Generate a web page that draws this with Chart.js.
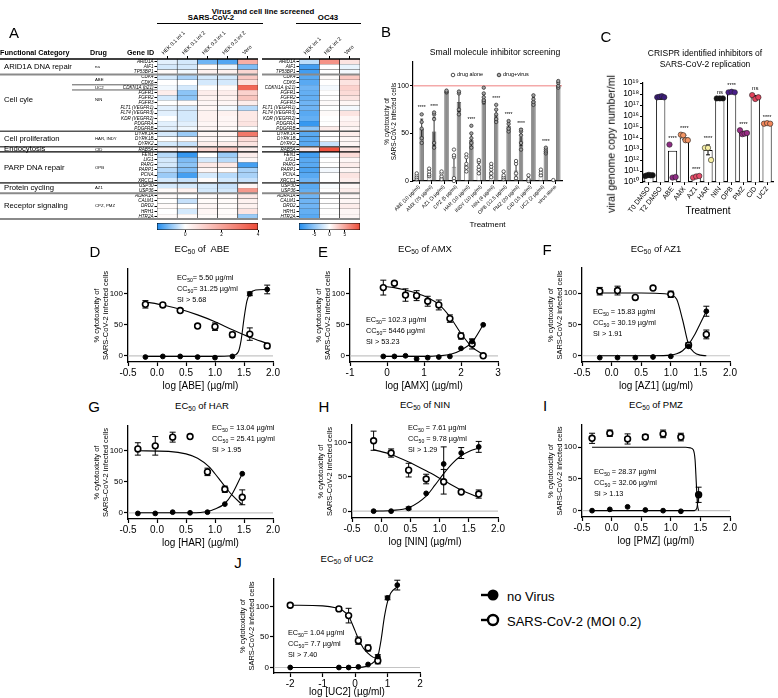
<!DOCTYPE html>
<html><head><meta charset="utf-8">
<script src="https://cdn.jsdelivr.net/npm/chart.js@4.4.1/dist/chart.umd.min.js"></script>
<style>
html,body{margin:0;padding:0;background:#fff}
body{width:778px;height:698px;position:relative;overflow:hidden;font-family:"Liberation Sans",Arial,sans-serif;color:#000}
canvas{position:absolute}
.t{position:absolute;white-space:nowrap;line-height:1}
.t sub{font-size:70%;vertical-align:-0.3em;line-height:0}
.hl{position:absolute;height:0;border-top:1.3px solid #000}
svg{position:absolute}
</style></head><body>
<script>
// ================= DATA =================
// ---- Panel A: heatmap ----
const genes = ['ARID1A','AIF1','TP53BP1','CDK4','CDK6','CDKN1A (p21)','FGFR1','FGFR2','FGFR3','FLT1 (VEGFR1)','FLT4 (VEGFR3)','KDR (VEGFR2)','PDGFRA','PDGFRB','DYRK1A','DYRK1B','DYRK2','RAB5A','FEN1','LIG1','PARG','PARP1','PCNA','XRCC1','USP30','USP36','ADRA1A','CALM1','DRD2','HRH1','HTR2A'];
const sarsCols = ['HEK 0.1 int 1','HEK 0.1 int 2','HEK 0.3 int 1','HEK 0.3 int 2','Vero'];
const sarsVals = [
 [-0.2,-0.3,-1.0,-1.2,1.8],[-0.3,-0.3,0.1,-0.15,-0.9],[0.1,-0.1,0.3,0.3,0.9],[-0.3,-0.6,-0.3,-0.3,1.2],
 [0.0,0.0,-0.3,-0.3,0.7],[-0.1,-0.3,0.0,0.1,3.4],[0.4,-0.8,0.4,0.4,1.0],[-0.3,-0.8,0.3,0.3,1.3],
 [0.0,0.1,0.2,0.2,0.4],[-0.2,-0.3,0.2,-0.1,-0.5],[-0.2,-0.3,0.3,0.3,0.5],[0.0,-0.3,0.3,0.2,0.5],
 [-0.2,-0.2,0.2,0.2,0.6],[-0.2,-0.1,0.2,0.1,0.0],[-0.3,-0.7,0.2,0.2,3.0],[0.0,0.1,0.2,0.1,0.8],
 [-0.3,-0.4,0.4,0.4,0.6],[0.3,0.3,0.9,1.2,0.4],[-0.5,-1.4,0.0,-0.7,0.4],[-0.3,-0.9,-0.3,-0.5,0.2],
 [-0.3,-0.8,0.5,0.5,-1.3],[-0.5,-0.9,0.2,0.1,-0.6],[-0.7,-1.3,-0.3,-0.5,-0.6],[-0.3,-0.4,0.1,-0.3,-0.4],
 [-0.3,-0.3,-0.3,-0.4,0.2],[0.1,0.3,-0.3,-0.3,2.3],[0.1,0.0,0.1,0.1,0.5],[0.0,-0.4,0.1,0.1,0.3],
 [0.1,0.0,0.2,0.1,0.3],[0.0,-0.3,0.2,0.1,0.6],[0.1,0.1,0.1,0.1,-0.7]];
const oc43Cols = ['HEK int 1','HEK int 2','Vero'];
const oc43Vals = [
 [-3,6,1.5],[-8.5,0,-1],[-8.5,0,-0.5],[-7.5,0.3,3],[-7.5,0,1.5],[-6.5,-0.5,2.5],[-7,0,2],[-7,0,1.5],
 [-6.5,0.3,0.5],[-6.5,0,-0.5],[-7.5,0.3,1.5],[-7,0,0.5],[-9,0,0.8],[-5,1,0.5],[-7.5,0,1],[-7.5,0,0.5],
 [-7.5,-2.5,0.5],[1.5,9.5,1.5],[-8.5,-0.5,2],[-7.5,0,0.5],[-7.5,0,1],[-8,-0.5,0.5],[-7.5,0,1.5],[-6.5,0,1],
 [-7.5,-0.3,0.5],[-7,0,1],[-6.5,0,0.5],[-6.5,0,0.5],[-6.5,0,1],[-7,0,0.5],[-7.5,0,0.5]];
const sarsScale = [-1.55, 4];
const sarsBarTicks = [0, 2, 4];
const oc43Scale = [-10, 10];
const oc43BarTicks = [-5, 0, 5];
const catNames = ['ARID1A DNA repair','Cell cyle','Cell proliferation','Endocytosis','PARP DNA repair','Protein cycling','Receptor signaling'];
const catRows = [1.5, 8, 15.5, 17.5, 21, 25, 28.5];
const drugNames = ['na','ABE','UC2','NIN','HAR, INDY','CID','OPB','AZ1','CPZ, PMZ'];
const drugRows = [1.5, 4, 5.5, 8, 15.5, 17.5, 21, 25, 28.5];
const groupBounds = [0, 3, 14, 17, 18, 24, 26, 31];
const uc2Bounds = [5, 6];

// ---- Panel B ----
const bCats = ['ABE (10 µg/ml)','AMX (75 µg/ml)','AZ1 (3 µg/ml)','CPZ (5 µg/ml)','HAR (10 µg/ml)','INDY (10 µg/ml)','NIN (4 µg/ml)','OPB (12.5 µg/ml)','PMZ (20 µg/ml)','CID (15 µg/ml)','UC2 (2 µg/ml)','virus alone'];
const bAlone = [5, 8, 5, 15, 17, 13, 10, 5, 11, 2, 8, 1];
const bAloneSD = [3, 4, 4, 12, 8, 6, 6, 4, 9, 3, 3, 0];
const bVirus = [55, 52, 94, 83, 43, 86, 69, 58, 46, 84, 32, 101];
const bVirusSD = [10, 15, 1, 10, 7, 5, 6, 4, 9, 4, 2, 3];
const bAloneReps = [[2,4,6,8],[5,7,10,13],[2,5,8,10],[0,3,25,27,33],[10,14,18,25,28],[8,12,15,20,22],[4,8,12,15,18],[2,4,6,10],[3,8,18,21],[0,2,6],[6,9,12],[1]];
const bVirusReps = [[40,45,55,62,70],[35,40,65,70,72],[93,94,95],[70,75,92,94],[35,40,45,50,58],[83,85,88,92,98],[62,65,70,75,80],[52,55,60,63],[33,40,48,52,54],[80,83,86,90],[29,31,33,35],[98,100,103,105]];
const bStars = ['****','****','','','****','','****','****','****','','****',''];
const bRefLine = 100;

// ---- Panel C (log10 copies/ml) ----
const cCats = ['T0 DMSO','T2 DMSO','ABE','AMX','AZ1','HAR','NIN','OPB','PMZ','CID','UC2'];
const cBar = [10.6, 17.6, 12.85, 14.05, 10.55, 12.92, 17.55, 18.1, 14.45, 17.7, 15.3];
const cSD = [0.05, 0.08, 0, 0.2, 0.05, 0.45, 0, 0, 0.15, 0.15, 0];
const cPts = [[10.55,10.6,10.65,10.6,10.62],[17.7,17.75,17.8,17.7],[13.4,10.4,10.45],[14.3,14.25,13.8,13.8],[10.4,10.5,10.55],[13.1,13.1,12.0],[17.6,17.6,17.6],[18.15,18.2,18.15],[14.7,14.35,14.4,14.45],[17.9,17.55,17.7],[15.3,15.35,15.3]];
const cColors = ['#111111','#3b1c7a','#8e2c84','#f39565','#e84d6a','#f6eea4','#111111','#4a1f8a','#9b2d86','#e2415b','#f2875a'];
const cSig = ['','','****','****','****','****','ns','****','****','ns','****'];
const cTicks = [10,11,12,13,14,15,16,17,18,19];

// ---- Panels D–J: dose response (x = log µg/ml, y = % cytotoxicity) ----
const ABE_dose = [-0.2,0.1,0.4,0.7,1.0,1.3,1.6,1.9];
const ABE_virus = [83,82,73,48,47,34,35,16];
const ABE_virusSD = [6,3,3,2,6,4,10,4];
const ABE_noVirus = [-2,-1,-1,-2,-3,-1,100,107];
const ABE_noVirusSD = [0,0,0,0,0,0,3,7];
const ABE_fitVirusX = [-0.2,0.1,0.4,0.7,1.0,1.3,1.6,1.9];
const ABE_fitVirusY = [87,82,75,66,55,42,30,20];
const ABE_fitNoVirusX = [-0.2,0.5,1.0,1.3,1.4,1.45,1.5,1.55,1.6,1.7,1.9];
const ABE_fitNoVirusY = [-1,-1,-1,0,6,25,60,88,100,106,107];

const AMX_dose = [-0.1,0.2,0.5,0.8,1.1,1.4,1.7,2.0,2.3,2.6];
const AMX_virus = [110,117,98,97,88,82,60,32,19,0];
const AMX_virusSD = [12,2,10,8,8,8,6,5,8,2];
const AMX_noVirus = [-1,-1,0,-5,-3,-2,-1,12,23,50];
const AMX_noVirusSD = [0,0,0,0,0,0,0,0,4,0];
const AMX_fitVirusX = [-0.1,0.2,0.5,0.8,1.1,1.4,1.7,2.0,2.3,2.6];
const AMX_fitVirusY = [112,110,106,101,94,83,63,36,14,2];
const AMX_fitNoVirusX = [-0.1,0.5,1.1,1.4,1.7,2.0,2.3,2.6];
const AMX_fitNoVirusY = [-1,-1,-1,0,2,9,22,50];

const AZ1_dose = [-0.2,0.1,0.4,0.7,1.0,1.3,1.6];
const AZ1_virus = [103,104,93,108,98,17,34];
const AZ1_virusSD = [6,7,0,0,5,4,7];
const AZ1_noVirus = [-3,-3,-3,-2,-1,15,71];
const AZ1_noVirusSD = [0,0,0,0,0,0,8];
const AZ1_fitVirusX = [-0.2,0.5,0.9,1.0,1.1,1.2,1.3,1.4,1.5,1.6];
const AZ1_fitVirusY = [100,100,99,97,90,57,18,5,1,0];
const AZ1_fitNoVirusX = [-0.2,0.7,1.0,1.1,1.2,1.3,1.4,1.5,1.6];
const AZ1_fitNoVirusY = [0,0,1,3,8,18,33,52,71];

const HAR_dose = [-0.33,-0.03,0.27,0.57,0.87,1.17,1.47];
const HAR_virus = [103,108,122,123,66,38,25];
const HAR_virusSD = [10,15,8,3,6,5,12];
const HAR_noVirus = [-1,-1,1,0,1,14,63];
const HAR_noVirusSD = [0,0,0,0,0,0,0];
const HAR_fitVirusX = [-0.33,0.2,0.5,0.7,0.9,1.0,1.1,1.2,1.3,1.47];
const HAR_fitVirusY = [100,99,95,88,74,63,51,39,28,13];
const HAR_fitNoVirusX = [-0.33,0.6,0.87,1.0,1.17,1.3,1.47];
const HAR_fitNoVirusY = [0,0,2,6,15,31,63];

const NIN_dose = [-0.13,0.17,0.47,0.77,1.07,1.37,1.67];
const NIN_virus = [103,85,60,47,43,28,25];
const NIN_virusSD = [14,6,10,7,18,2,6];
const NIN_noVirus = [0,0,4,26,69,85,94];
const NIN_noVirusSD = [0,0,2,0,25,8,8];
const NIN_fitVirusX = [-0.13,0.17,0.47,0.77,1.07,1.37,1.67];
const NIN_fitVirusY = [90,83,72,59,45,31,20];
const NIN_fitNoVirusX = [-0.13,0.17,0.47,0.77,0.92,1.07,1.22,1.37,1.52,1.67];
const NIN_fitNoVirusY = [0,1,5,22,38,55,70,81,88,92];

const PMZ_dose = [-0.33,-0.03,0.27,0.57,0.87,1.17,1.47];
const PMZ_virus = [114,122,113,116,121,116,25];
const PMZ_virusSD = [8,5,8,4,6,6,12];
const PMZ_noVirus = [0,2,6,1,0,-1,25];
const PMZ_noVirusSD = [0,0,0,0,0,0,0];
const PMZ_fitVirusX = [-0.33,1.25,1.33,1.38,1.41,1.43,1.45,1.47];
const PMZ_fitVirusY = [100,100,99,96,80,45,10,0];
const PMZ_fitNoVirusX = [-0.33,1.4,1.44,1.47];
const PMZ_fitNoVirusY = [0,0,4,25];

const UC2_virusDose = [-2,-0.5,-0.2,0.1,0.4,0.7];
const UC2_virus = [102,96,85,44,32,11];
const UC2_virusSD = [3,3,12,6,5,5];
const UC2_noVirusDose = [-2,-0.5,-0.2,0.1,0.4,0.7,1.0,1.3];
const UC2_noVirus = [0,0,0,1,5,18,114,135];
const UC2_noVirusSD = [0,0,0,0,0,3,3,8];
const UC2_fitVirusX = [-2,-1.0,-0.6,-0.4,-0.2,0,0.1,0.25,0.4,0.55,0.7];
const UC2_fitVirusY = [102,101,98,94,84,60,47,32,23,17,15];
const UC2_fitNoVirusX = [-2,0,0.4,0.6,0.7,0.8,0.9,1.0,1.1,1.3];
const UC2_fitNoVirusY = [0,0,3,10,18,45,82,108,122,132];

const yTicksDose = [0, 50, 100];

// ================= HELPERS =================
const FONT = '"Liberation Sans", Arial, sans-serif';
Chart.defaults.font.family = FONT;
Chart.defaults.color = '#000';
Chart.defaults.animation = false;
Chart.defaults.responsive = false;
Chart.defaults.devicePixelRatio = 1;
Chart.defaults.plugins.legend.display = false;
Chart.defaults.plugins.tooltip.enabled = false;

function mkCanvas(l, t, w, h) {
  const c = document.createElement('canvas');
  w = Math.round(w); h = Math.round(h);
  c.width = w; c.height = h;
  c.style.left = Math.round(l) + 'px'; c.style.top = Math.round(t) + 'px';
  c.style.width = w + 'px'; c.style.height = h + 'px';
  document.body.appendChild(c);
  return c;
}
function T(x, y, html, size, o = {}) {
  const d = document.createElement('div');
  d.className = 't'; d.innerHTML = html;
  d.style.fontSize = size + 'px';
  d.style.left = x + 'px'; d.style.top = y + 'px';
  const ax = o.align === 'left' ? '0' : o.align === 'right' ? '-100%' : '-50%';
  d.style.transform = `translate(${ax},-50%)` + (o.rot ? ` rotate(${o.rot}deg)` : '');
  if (o.bold) d.style.fontWeight = 'bold';
  document.body.appendChild(d);
}
function HL(x1, x2, y) {
  const d = document.createElement('div'); d.className = 'hl';
  d.style.left = x1 + 'px'; d.style.top = y + 'px'; d.style.width = (x2 - x1) + 'px';
  document.body.appendChild(d);
}
const BLUE = [33, 140, 238], RED = [238, 75, 55];
function colorFor(v, vmin, vmax) {
  let t, c;
  if (v < 0) { t = Math.min(1, v / vmin); c = BLUE; } else { t = Math.min(1, v / vmax); c = RED; }
  return 'rgb(' + c.map(k => Math.round(255 + (k - 255) * t)).join(',') + ')';
}
const axisGrid = { drawOnChartArea: false, color: '#000', tickLength: 4, tickWidth: 1.2 };
const axisBorder = { color: '#000', width: 1.3 };

// ================= PANEL A: HEATMAPS =================
function tablePlugin(isMain) {
  return { id: 'table' + (isMain ? 'S' : 'O'), afterDatasetsDraw(chart) {
    const { ctx, chartArea } = chart; const ys = chart.scales.y;
    const cols = ['#000', '#8a8a8a', '#555', '#555', '#000', '#555', '#8a8a8a', '#8a8a8a'];
    const wds = [1.3, 2, 1.6, 1.6, 1.3, 1.6, 2, 2];
    ctx.save();
    groupBounds.forEach((b, k) => {
      const py = ys.getPixelForValue(b);
      ctx.strokeStyle = cols[k]; ctx.lineWidth = wds[k];
      ctx.beginPath(); ctx.moveTo(0, py); ctx.lineTo(chartArea.right, py); ctx.stroke();
    });
    if (isMain) {
      ctx.strokeStyle = '#333'; ctx.lineWidth = 0.8;
      uc2Bounds.forEach(b => { const py = ys.getPixelForValue(b); ctx.beginPath(); ctx.moveTo(72, py); ctx.lineTo(chartArea.left, py); ctx.stroke(); });
      ctx.fillStyle = '#000'; ctx.textBaseline = 'middle'; ctx.textAlign = 'left';
      ctx.font = '7.7px ' + FONT;
      catNames.forEach((n, k) => ctx.fillText(n, 4, ys.getPixelForValue(catRows[k])));
      ctx.font = '4.3px ' + FONT;
      drugNames.forEach((n, k) => ctx.fillText(n, 95, ys.getPixelForValue(drugRows[k])));
    }
    ctx.restore();
  } };
}
function heatmap(o) {
  const areaTop = 59, areaBottom = 219, padB = 4, padR = 4;
  const xh = areaTop - o.top;
  const cv = mkCanvas(o.left, o.top, o.areaRight + padR - o.left, areaBottom + padB - o.top);
  new Chart(cv, { type: 'bar',
    data: { labels: o.cols, datasets: genes.map((g, i) => ({
      label: g, data: o.cols.map(() => [i, i + 1]),
      backgroundColor: o.vals[i].map(v => colorFor(v, o.vmin, o.vmax)),
      borderColor: '#1a1a1a', borderWidth: { left: 0.6, right: 0.6, top: 0.15, bottom: 0.15 },
      borderSkipped: false, grouped: false, barPercentage: 1, categoryPercentage: 1 })) },
    options: { layout: { padding: { top: 0, right: padR, bottom: padB, left: 0 } },
      scales: {
        x: { position: 'top', ticks: { font: { size: 5.2 }, minRotation: 45, maxRotation: 45, autoSkip: false, padding: 0 },
             grid: { drawOnChartArea: false, offset: false, color: '#000', tickLength: 3 }, border: { display: false },
             afterFit: s => { s.height = xh; } },
        y: { min: 0, max: genes.length, reverse: true,
             afterBuildTicks: s => { s.ticks = genes.map((g, i) => ({ value: i + 0.5 })); },
             ticks: { autoSkip: false, callback: (v, i) => genes[i], font: { size: 4.6, style: 'italic', lineHeight: 1 }, padding: 1 },
             grid: { drawOnChartArea: false, color: '#000', tickLength: 2.5 }, border: { display: false },
             afterFit: s => { s.width = o.yw; } } } },
    plugins: [o.plugin] });
}
function colorbar(x1, x2, y1, y2, range, ticks) {
  const padL = 8, padR = 8, padT = 2, xh = 8;
  const [vmin, vmax] = range;
  const cv = mkCanvas(x1 - padL, y1 - padT, x2 - x1 + padL + padR, y2 - y1 + padT + xh);
  new Chart(cv, { type: 'bar',
    data: { labels: [''], datasets: [{ data: [[vmin, vmax]],
      backgroundColor: (ctx) => {
        const ch = ctx.chart; if (!ch.chartArea) return '#fff';
        const xs = ch.scales.x;
        const g = ch.ctx.createLinearGradient(xs.getPixelForValue(vmin), 0, xs.getPixelForValue(vmax), 0);
        for (let k = 0; k <= 20; k++) { const v = vmin + (vmax - vmin) * k / 20; g.addColorStop(k / 20, colorFor(v, vmin, vmax)); }
        g.addColorStop((0 - vmin) / (vmax - vmin), 'rgb(255,255,255)');
        return g;
      },
      borderColor: '#000', borderWidth: 0.8, borderSkipped: false, barPercentage: 1, categoryPercentage: 1 }] },
    options: { indexAxis: 'y', layout: { padding: { left: padL, right: padR, top: padT, bottom: 0 } },
      scales: { y: { display: false },
        x: { min: vmin, max: vmax, afterBuildTicks: a => { a.ticks = ticks.map(v => ({ value: v })); },
             grid: { drawOnChartArea: false, color: '#000', tickLength: 2 }, border: { display: false },
             ticks: { font: { size: 4.6 }, padding: 0, maxRotation: 0 }, afterFit: s => { s.height = xh; } } } } });
}
heatmap({ left: 0, top: 30, areaRight: 258, yw: 157, cols: sarsCols, vals: sarsVals, vmin: sarsScale[0], vmax: sarsScale[1], plugin: tablePlugin(true) });
heatmap({ left: 262, top: 30, areaRight: 360, yw: 37, cols: oc43Cols, vals: oc43Vals, vmin: oc43Scale[0], vmax: oc43Scale[1], plugin: tablePlugin(false) });
colorbar(157, 258, 223, 230, sarsScale, sarsBarTicks);
colorbar(299, 360, 223, 230, oc43Scale, oc43BarTicks);

// ================= PANEL B =================
const bPlugin = { id: 'bExtras',
  beforeDatasetsDraw(chart) {
    const { ctx, chartArea } = chart; const py = chart.scales.y.getPixelForValue(bRefLine);
    ctx.save(); ctx.strokeStyle = '#f4a9a9'; ctx.lineWidth = 1.5;
    ctx.beginPath(); ctx.moveTo(chartArea.left, py); ctx.lineTo(chartArea.right, py); ctx.stroke(); ctx.restore();
  },
  afterDatasetsDraw(chart) {
    const { ctx } = chart; const ys = chart.scales.y;
    ctx.save();
    chart.data.datasets.forEach((ds, di) => {
      chart.getDatasetMeta(di).data.forEach((bar, i) => {
        const v = ds.data[i], e = ds.err[i], x = bar.x;
        if (e) {
          const y1 = ys.getPixelForValue(v - e), y2 = ys.getPixelForValue(v + e);
          ctx.strokeStyle = '#000'; ctx.lineWidth = 0.8; ctx.beginPath();
          ctx.moveTo(x, y1); ctx.lineTo(x, y2); ctx.moveTo(x - 1.5, y2); ctx.lineTo(x + 1.5, y2);
          ctx.moveTo(x - 1.5, y1); ctx.lineTo(x + 1.5, y1); ctx.stroke();
        }
        ds.reps[i].forEach(r => {
          ctx.beginPath(); ctx.arc(x, ys.getPixelForValue(r), 1.7, 0, 2 * Math.PI);
          ctx.fillStyle = ds.repFill; ctx.fill(); ctx.lineWidth = 0.7; ctx.strokeStyle = '#222'; ctx.stroke();
        });
        if (ds.stars && ds.stars[i]) {
          ctx.fillStyle = '#000'; ctx.font = '5px ' + FONT; ctx.textAlign = 'center'; ctx.textBaseline = 'bottom';
          ctx.fillText(ds.stars[i], x, ys.getPixelForValue(Math.max(...ds.reps[i]) + 4));
        }
      });
    });
    ctx.restore();
  } };
new Chart(mkCanvas(383, 56, 187, 174), { type: 'bar',
  data: { labels: bCats, datasets: [
    { data: bAlone, err: bAloneSD, reps: bAloneReps, repFill: '#fff', backgroundColor: '#fff', borderColor: '#6d6d6d', borderWidth: 0.8 },
    { data: bVirus, err: bVirusSD, reps: bVirusReps, repFill: '#a5a5a5', stars: bStars, backgroundColor: '#8d8d8d', borderColor: '#5a5a5a', borderWidth: 0.8 } ] },
  options: { datasets: { bar: { categoryPercentage: 0.8, barPercentage: 0.9 } },
    layout: { padding: { top: 6, right: 8, left: 0, bottom: 0 } },
    scales: {
      x: { ticks: { font: { size: 5 }, minRotation: 45, maxRotation: 45, autoSkip: false, padding: 0 },
           grid: { drawOnChartArea: false, offset: false, color: '#000', tickLength: 3 }, border: { color: '#000', width: 1.2 },
           title: { display: true, text: 'Treatment', font: { size: 8 }, padding: 0 }, afterFit: s => { s.height = 49; } },
      y: { min: 0, max: 125, afterBuildTicks: s => { s.ticks = yTicksDose.map(v => ({ value: v })); },
           ticks: { font: { size: 7 }, padding: 1 }, grid: { drawOnChartArea: false, color: '#000', tickLength: 3 },
           border: { color: '#000', width: 1.2 },
           title: { display: true, text: ['% cytotoxicity of', 'SARS-CoV-2 infected cells'], font: { size: 6.5 }, padding: 0 },
           afterFit: s => { s.width = 30; } } } },
  plugins: [bPlugin] });

// ================= PANEL C =================
const SUP = '⁰¹²³⁴⁵⁶⁷⁸⁹';
const sup = n => String(n).split('').map(d => SUP[+d]).join('');
const cPlugin = { id: 'cExtras', afterDatasetsDraw(chart) {
  const { ctx } = chart; const ys = chart.scales.y; const meta = chart.getDatasetMeta(0);
  ctx.save();
  meta.data.forEach((bar, i) => {
    const x = bar.x, sd = cSD[i];
    if (sd) {
      const y1 = ys.getPixelForValue(10 ** (cBar[i] - sd)), y2 = ys.getPixelForValue(10 ** (cBar[i] + sd));
      ctx.strokeStyle = '#000'; ctx.lineWidth = 1; ctx.beginPath();
      ctx.moveTo(x, y1); ctx.lineTo(x, y2); ctx.moveTo(x - 2, y1); ctx.lineTo(x + 2, y1); ctx.moveTo(x - 2, y2); ctx.lineTo(x + 2, y2); ctx.stroke();
    }
    const pts = cPts[i], n = pts.length, step = Math.min(3.2, bar.width / n);
    pts.forEach((e, j) => {
      ctx.beginPath(); ctx.arc(x + (j - (n - 1) / 2) * step, ys.getPixelForValue(10 ** e), 2.7, 0, 2 * Math.PI);
      ctx.fillStyle = cColors[i]; ctx.fill(); ctx.lineWidth = 0.6; ctx.strokeStyle = '#222'; ctx.stroke();
    });
    if (cSig[i]) {
      const top = Math.max(...pts, cBar[i] + sd);
      ctx.fillStyle = '#000'; ctx.font = (cSig[i] === 'ns' ? '6px ' : '5.5px ') + FONT;
      ctx.textAlign = 'center'; ctx.textBaseline = 'bottom';
      ctx.fillText(cSig[i], x, ys.getPixelForValue(10 ** (top + 0.3)));
    }
  });
  ctx.restore();
} };
new Chart(mkCanvas(604, 77, 173, 140), { type: 'bar',
  data: { labels: cCats, datasets: [{ data: cBar.map(e => 10 ** e), backgroundColor: '#fff', borderColor: '#000', borderWidth: 1, categoryPercentage: 0.92, barPercentage: 0.85 }] },
  options: { layout: { padding: { top: 6, right: 4, left: 0, bottom: 0 } },
    scales: {
      x: { ticks: { font: { size: 7 }, minRotation: 52, maxRotation: 52, autoSkip: false, padding: 0 },
           grid: { drawOnChartArea: false, offset: false, color: '#000', tickLength: 3 }, border: { color: '#000', width: 1.2 },
           title: { display: true, text: 'Treatment', font: { size: 10 }, padding: 0 }, afterFit: s => { s.height = 35; } },
      y: { type: 'logarithmic', min: 1e10, max: 1e19,
           afterBuildTicks: s => { s.ticks = cTicks.map(e => ({ value: 10 ** e })); },
           ticks: { autoSkip: false, callback: v => '10' + sup(Math.round(Math.log10(v))), font: { size: 8.5, lineHeight: 1 }, padding: 1 },
           grid: { drawOnChartArea: false, color: '#000', tickLength: 3 }, border: { color: '#000', width: 1.2 },
           afterFit: s => { s.width = 39; } } } },
  plugins: [cPlugin] });

// ================= PANELS D–J =================
const errPlugin = { id: 'err', beforeDatasetsDraw(chart) {
  const { ctx, scales: { x, y } } = chart;
  ctx.save(); ctx.strokeStyle = '#000'; ctx.lineWidth = 1;
  chart.data.datasets.forEach(ds => {
    if (!ds.err) return;
    ds.data.forEach((p, i) => {
      const e = ds.err[i]; if (!e) return;
      const px = x.getPixelForValue(p.x), y1 = y.getPixelForValue(p.y - e), y2 = y.getPixelForValue(p.y + e);
      ctx.beginPath(); ctx.moveTo(px, y1); ctx.lineTo(px, y2);
      ctx.moveTo(px - 3, y1); ctx.lineTo(px + 3, y1); ctx.moveTo(px - 3, y2); ctx.lineTo(px + 3, y2); ctx.stroke();
    });
  });
  ctx.restore();
} };
const P = (xs, ys) => xs.map((x, i) => ({ x, y: ys[i] }));
function doseChart(c) {
  const yw = 36, xh = c.xh || 30, padT = 6, padR = 10, a = c.area;
  const cv = mkCanvas(a.x1 - yw, a.y1 - padT, a.x2 - a.x1 + yw + padR, a.y2 - a.y1 + padT + xh);
  new Chart(cv, { type: 'scatter',
    data: { datasets: [
      { data: P(c.nX, c.nY), err: c.nSD, pointRadius: 2.4, pointBackgroundColor: '#000', pointBorderColor: '#000', pointBorderWidth: 1, order: 0, clip: false },
      { data: P(c.vX, c.vY), err: c.vSD, pointRadius: 2.9, pointBackgroundColor: '#fff', pointBorderColor: '#000', pointBorderWidth: 1.6, order: 0, clip: false },
      { data: P(c.fnX, c.fnY), showLine: true, pointRadius: 0, borderColor: '#000', borderWidth: 1.1, cubicInterpolationMode: 'monotone', order: 1 },
      { data: P(c.fvX, c.fvY), showLine: true, pointRadius: 0, borderColor: '#000', borderWidth: 1.1, cubicInterpolationMode: 'monotone', order: 1 },
      { data: [{ x: c.xmin, y: 0 }, { x: c.xmax, y: 0 }], showLine: true, pointRadius: 0, borderColor: '#c4c4c4', borderWidth: 1.2, order: 2 } ] },
    options: { layout: { padding: { top: padT, right: padR, left: 0, bottom: 0 } },
      scales: {
        x: { type: 'linear', min: c.xmin, max: c.xmax,
             afterBuildTicks: s => { s.ticks = c.xticks.map(v => ({ value: v })); }, afterFit: s => { s.height = xh; },
             ticks: { callback: v => v.toFixed(c.dec), font: { size: 10 }, padding: 1, maxRotation: 0 },
             grid: axisGrid, border: axisBorder,
             title: { display: true, text: c.xlabel, font: { size: 10 }, padding: { top: 0, bottom: 0 } } },
        y: { min: c.ymin, max: c.ymax,
             afterBuildTicks: s => { s.ticks = yTicksDose.map(v => ({ value: v })); }, afterFit: s => { s.width = yw; },
             ticks: { font: { size: 8 }, padding: 1 }, grid: axisGrid, border: axisBorder,
             title: { display: true, text: ['% cytotoxicity of', 'SARS-CoV-2 infected cells'], font: { size: 7.5 }, padding: 0 } } } },
    plugins: [errPlugin] });
}
doseChart({ area: { x1: 128, x2: 273, y1: 269, y2: 362 }, xmin: -0.5, xmax: 2.0, xticks: [-0.5, 0, 0.5, 1, 1.5, 2], dec: 1, ymin: -10, ymax: 140, xlabel: 'log [ABE] (µg/ml)',
  vX: ABE_dose, vY: ABE_virus, vSD: ABE_virusSD, nX: ABE_dose, nY: ABE_noVirus, nSD: ABE_noVirusSD,
  fvX: ABE_fitVirusX, fvY: ABE_fitVirusY, fnX: ABE_fitNoVirusX, fnY: ABE_fitNoVirusY });
doseChart({ area: { x1: 350, x2: 498, y1: 269, y2: 362 }, xmin: -1, xmax: 3, xticks: [-1, 0, 1, 2, 3], dec: 0, ymin: -10, ymax: 140, xlabel: 'log [AMX] (µg/ml)',
  vX: AMX_dose, vY: AMX_virus, vSD: AMX_virusSD, nX: AMX_dose, nY: AMX_noVirus, nSD: AMX_noVirusSD,
  fvX: AMX_fitVirusX, fvY: AMX_fitVirusY, fnX: AMX_fitNoVirusX, fnY: AMX_fitNoVirusY });
doseChart({ area: { x1: 582, x2: 730, y1: 268, y2: 362 }, xmin: -0.5, xmax: 2.0, xticks: [-0.5, 0, 0.5, 1, 1.5, 2], dec: 1, ymin: -10, ymax: 140, xlabel: 'log [AZ1] (µg/ml)',
  vX: AZ1_dose, vY: AZ1_virus, vSD: AZ1_virusSD, nX: AZ1_dose, nY: AZ1_noVirus, nSD: AZ1_noVirusSD,
  fvX: AZ1_fitVirusX, fvY: AZ1_fitVirusY, fnX: AZ1_fitNoVirusX, fnY: AZ1_fitNoVirusY });
doseChart({ area: { x1: 128, x2: 273, y1: 426, y2: 519 }, xmin: -0.5, xmax: 2.0, xticks: [-0.5, 0, 0.5, 1, 1.5, 2], dec: 1, ymin: -10, ymax: 140, xlabel: 'log [HAR] (µg/ml)',
  vX: HAR_dose, vY: HAR_virus, vSD: HAR_virusSD, nX: HAR_dose, nY: HAR_noVirus, nSD: HAR_noVirusSD,
  fvX: HAR_fitVirusX, fvY: HAR_fitVirusY, fnX: HAR_fitNoVirusX, fnY: HAR_fitNoVirusY });
doseChart({ area: { x1: 352, x2: 498, y1: 425, y2: 518 }, xmin: -0.5, xmax: 2.0, xticks: [-0.5, 0, 0.5, 1, 1.5, 2], dec: 1, ymin: -10, ymax: 126, xlabel: 'log [NIN] (µg/ml)',
  vX: NIN_dose, vY: NIN_virus, vSD: NIN_virusSD, nX: NIN_dose, nY: NIN_noVirus, nSD: NIN_noVirusSD,
  fvX: NIN_fitVirusX, fvY: NIN_fitVirusY, fnX: NIN_fitNoVirusX, fnY: NIN_fitNoVirusY });
doseChart({ area: { x1: 582, x2: 730, y1: 425, y2: 517 }, xmin: -0.5, xmax: 2.0, xticks: [-0.5, 0, 0.5, 1, 1.5, 2], dec: 1, ymin: -10, ymax: 135, xlabel: 'log [PMZ] (µg/ml)',
  vX: PMZ_dose, vY: PMZ_virus, vSD: PMZ_virusSD, nX: PMZ_dose, nY: PMZ_noVirus, nSD: PMZ_noVirusSD,
  fvX: PMZ_fitVirusX, fvY: PMZ_fitVirusY, fnX: PMZ_fitNoVirusX, fnY: PMZ_fitNoVirusY });
doseChart({ area: { x1: 274, x2: 420, y1: 579, y2: 673 }, xh: 25, xmin: -2.5, xmax: 2, xticks: [-2, -1, 0, 1, 2], dec: 0, ymin: -9, ymax: 145, xlabel: 'log [UC2] (µg/ml)',
  vX: UC2_virusDose, vY: UC2_virus, vSD: UC2_virusSD, nX: UC2_noVirusDose, nY: UC2_noVirus, nSD: UC2_noVirusSD,
  fvX: UC2_fitVirusX, fvY: UC2_fitVirusY, fnX: UC2_fitNoVirusX, fnY: UC2_fitNoVirusY });

// ================= TEXT =================
T(263, 12, 'Virus and cell line screened', 7.8, { bold: 1 });
T(211, 18, 'SARS-CoV-2', 7.8, { bold: 1 });
T(328, 18, 'OC43', 7.8, { bold: 1 });
HL(157, 263, 23); HL(296, 361, 23);
T(0, 52.5, 'Functional Category', 7.2, { bold: 1, align: 'left' });
T(90, 52.5, 'Drug', 7.2, { bold: 1, align: 'left' });
T(127, 52.5, 'Gene ID', 7.2, { bold: 1, align: 'left' });

T(14, 32, 'A', 15); T(386, 31, 'B', 15); T(606, 36, 'C', 15);
T(95, 251, 'D', 15); T(323, 251, 'E', 15); T(547, 249, 'F', 15);
T(94, 406, 'G', 15); T(324, 406, 'H', 15); T(545, 405, 'I', 15); T(238, 562, 'J', 15);

T(495, 52, 'Small molecule inhibitor screening', 8.6);
T(457, 75, 'drug alone', 5.5, { align: 'left' });
T(503, 75, 'drug+virus', 5.5, { align: 'left' });
T(705, 53, 'CRISPR identified inhibitors of', 8.5);
T(705, 64, 'SARS-CoV-2 replication', 8.5);
T(611, 144, 'viral genome copy number/ml', 10.5, { rot: -90 });

T(202, 249, 'EC<sub>50</sub> of&nbsp; ABE', 9.5);
T(425, 249, 'EC<sub>50</sub> of AMX', 9.5);
T(656, 249, 'EC<sub>50</sub> of AZ1', 9.5);
T(202, 406, 'EC<sub>50</sub> of HAR', 9.5);
T(425, 405, 'EC<sub>50</sub> of NIN', 9.5);
T(656, 405, 'EC<sub>50</sub> of PMZ', 9.5);
T(347, 559, 'EC<sub>50</sub> of UC2', 9.5);

const ann = (x, y, a, b, c) => { T(x, y, a, 7.3, { align: 'left' }); T(x, y + 11, b, 7.3, { align: 'left' }); T(x, y + 22, c, 7.3, { align: 'left' }); };
ann(177, 278, 'EC<sub>50</sub>= 5.50 µg/ml', 'CC<sub>50</sub>= 31.25 µg/ml', 'SI &gt; 5.68');
ann(366, 320, 'EC<sub>50</sub>= 102.3 µg/ml', 'CC<sub>50</sub>= 5446 µg/ml', 'SI &gt; 53.23');
ann(593, 312, 'EC<sub>50</sub> = 15.83 µg/ml', 'CC<sub>50</sub> = 30.19 µg/ml', 'SI &gt; 1.91');
ann(212, 428, 'EC<sub>50</sub> = 13.04 µg/ml', 'CC<sub>50</sub> = 25.41 µg/ml', 'SI &gt; 1.95');
ann(408, 428, 'EC<sub>50</sub> = 7.61 µg/ml', 'CC<sub>50</sub> = 9.78 µg/ml', 'SI &gt; 1.29');
ann(594, 472, 'EC<sub>50</sub> = 28.37 µg/ml', 'CC<sub>50</sub> = 32.06 µg/ml', 'SI &gt; 1.13');
ann(288, 633, 'EC<sub>50</sub>= 1.04 µg/ml', 'CC<sub>50</sub>= 7.7 µg/ml', 'SI &gt; 7.40');

T(507, 596, 'no Virus', 13, { align: 'left' });
T(507, 621, 'SARS-CoV-2 (MOI 0.2)', 13, { align: 'left' });
document.body.insertAdjacentHTML('beforeend',
 '<svg style="left:478px;top:583px" width="26" height="50">' +
 '<line x1="3" y1="12" x2="16" y2="12" stroke="#000" stroke-width="2.4"/><circle cx="15" cy="12" r="5.5" fill="#000"/>' +
 '<line x1="3" y1="37" x2="16" y2="37" stroke="#000" stroke-width="2.4"/><circle cx="15" cy="37" r="5" fill="#fff" stroke="#000" stroke-width="2.4"/></svg>' +
 '<svg style="left:449px;top:71px" width="60" height="8">' +
 '<circle cx="4" cy="4" r="1.8" fill="#fff" stroke="#222" stroke-width="0.8"/><circle cx="50" cy="4" r="1.8" fill="#a5a5a5" stroke="#222" stroke-width="0.8"/></svg>');
</script>
</body></html>
